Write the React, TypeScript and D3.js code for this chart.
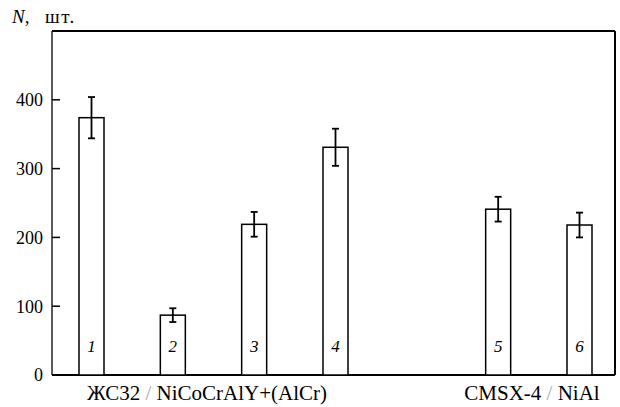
import React from "react";
import * as d3 from "d3";

const barLabels = ["1", "2", "3", "4", "5", "6"];
const barSlots = [0, 1, 2, 3, 5, 6];
const values = [374, 87, 219, 331, 241, 218];
const errors = [30, 10, 18, 27, 18, 18];
const yTicks = [0, 100, 200, 300, 400];
const groupLabels = ["ЖС32", "CMSX-4"];
const groupCoatings = ["NiCoCrAlY+(AlCr)", "NiAl"];

export default function App() {
  const W = 620, H = 407;
  const left = 52, right = 615, top = 31, bottom = 375;
  const x = d3.scaleLinear().domain([0, 6]).range([91.5, 579.5]);
  const y = d3.scaleLinear().domain([0, 500]).range([bottom, top]);
  const bw = 25;
  const fs = { fontFamily: "'Liberation Serif'" };
  const groupX = [207, 532];
  return (
    <svg width={W} height={H} style={{ position: "absolute", left: 0, top: 0 }}>
      <rect x={0} y={0} width={W} height={H} fill="#fff" />
      <text x={12} y={23} fontSize={19} style={fs}>
        <tspan fontStyle="italic">N</tspan>,<tspan x={45} letterSpacing={1.5}>шт.</tspan>
      </text>
      <line x1={left} x2={right} y1={top} y2={top} stroke="#000" strokeWidth={2} />
      <line x1={right} x2={right} y1={top} y2={bottom} stroke="#000" strokeWidth={2} />
      <line x1={left} x2={right} y1={bottom} y2={bottom} stroke="#000" strokeWidth={2} />
      <line x1={left} x2={left} y1={top} y2={bottom} stroke="#000" strokeWidth={1.3} />
      {yTicks.map((t) => (
        <g key={t}>
          {t > 0 && <line x1={left} x2={left + 8} y1={y(t)} y2={y(t)} stroke="#000" strokeWidth={1.5} />}
          <text x={43} y={y(t)} dy="0.35em" textAnchor="end" fontSize={18} style={fs}>{t}</text>
        </g>
      ))}
      {values.map((v, i) => {
        const cx = x(barSlots[i]);
        const e = errors[i];
        return (
          <g key={i}>
            <rect x={cx - bw / 2} y={y(v)} width={bw} height={bottom - y(v)} fill="#fff" stroke="#000" strokeWidth={1.5} />
            <line x1={cx} x2={cx} y1={y(v + e)} y2={y(v - e)} stroke="#000" strokeWidth={1.8} />
            <line x1={cx - 3.5} x2={cx + 3.5} y1={y(v + e)} y2={y(v + e)} stroke="#000" strokeWidth={1.8} />
            <line x1={cx - 3.5} x2={cx + 3.5} y1={y(v - e)} y2={y(v - e)} stroke="#000" strokeWidth={1.8} />
            <text x={cx} y={352} textAnchor="middle" fontSize={17} fontStyle="italic" style={fs}>{barLabels[i]}</text>
          </g>
        );
      })}
      {groupLabels.map((g, i) => (
        <text key={g} x={groupX[i]} y={400} textAnchor="middle" fontSize={21} style={fs}>
          {g}<tspan fill="#aaa"> / </tspan>{groupCoatings[i]}
        </text>
      ))}
    </svg>
  );
}
